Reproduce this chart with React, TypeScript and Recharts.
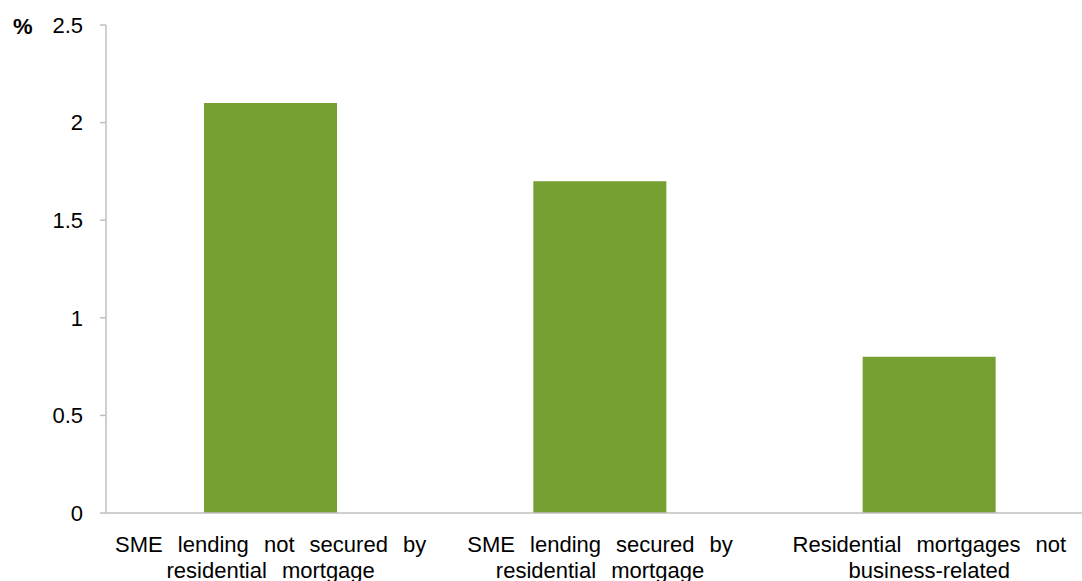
import { BarChart, Bar, XAxis, YAxis } from 'recharts'

// category labels, already split the way the reference wraps them
const categoryLines: string[][] = [
  ['SME lending not secured by', 'residential mortgage'],
  ['SME lending secured by', 'residential mortgage'],
  ['Residential mortgages not', 'business-related'],
]
const values = [2.1, 1.7, 0.8]
const yTicks = [0, 0.5, 1, 1.5, 2, 2.5]

const data = categoryLines.map((lines, i) => ({
  category: lines.join(' '),
  value: values[i],
}))

const FONT = '"Liberation Sans", Arial, sans-serif'
const AXIS = '#bfbfbf'

function XTick({ x, y, index }: any) {
  const lines = categoryLines[index] ?? []
  return (
    <text x={x} y={y} textAnchor="middle" fontFamily={FONT} fontSize={22} fill="#000" style={{ wordSpacing: 9 }}>
      {lines.map((l, i) => (
        <tspan key={i} x={x} dy={i === 0 ? 39 : 26}>{l}</tspan>
      ))}
    </text>
  )
}

export default function App() {
  return (
    <div style={{ position: 'absolute', left: 0, top: 0, width: 1082, height: 581, overflow: 'hidden', background: '#fff' }}>
      <div style={{
        position: 'absolute', left: 13, top: 14, fontFamily: FONT,
        fontSize: 22, fontWeight: 'bold', lineHeight: '26px',
      }}>
        %
      </div>
      <BarChart width={1094} height={581} data={data} margin={{ top: 25, right: 0, left: 0, bottom: 0 }}>
        <XAxis
          dataKey="category" interval={0} height={68}
          tickLine={false} tickSize={0} tickMargin={0}
          axisLine={{ stroke: AXIS, strokeWidth: 1.5 }}
          tick={<XTick />}
        />
        <YAxis
          width={106} domain={[0, 2.5]} ticks={yTicks} interval={0}
          tickSize={6} tickMargin={17}
          axisLine={{ stroke: AXIS, strokeWidth: 1.5 }}
          tickLine={{ stroke: AXIS, strokeWidth: 1.5 }}
          tick={{ fill: '#000', fontSize: 22, fontFamily: FONT }}
        />
        <Bar dataKey="value" fill="#77a033" barSize={133} isAnimationActive={false} />
      </BarChart>
    </div>
  )
}
